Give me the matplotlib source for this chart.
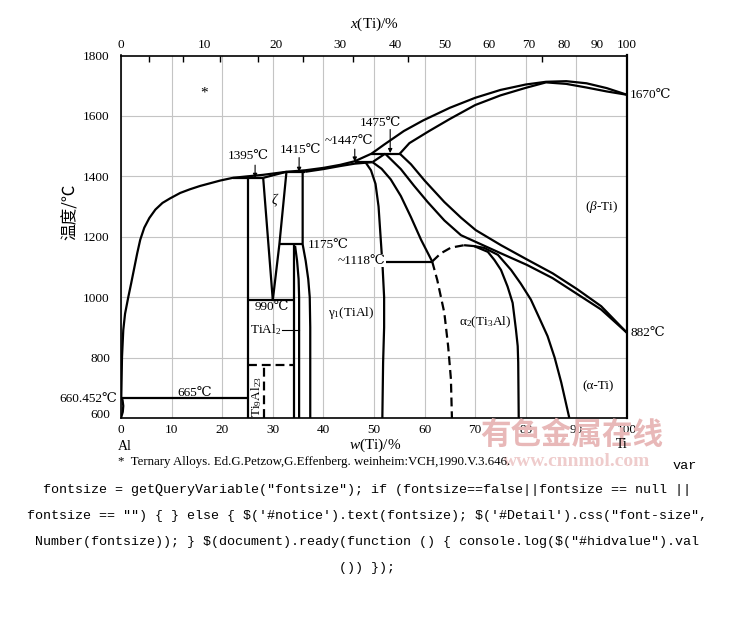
import numpy as np
import matplotlib.pyplot as plt
from matplotlib.transforms import ScaledTranslation

SERIF = ['Liberation Serif', 'DejaVu Serif', 'Noto Sans CJK SC']
plt.rcParams['font.family'] = SERIF
plt.rcParams['mathtext.fontset'] = 'custom'
plt.rcParams['mathtext.rm'] = 'Liberation Serif'
plt.rcParams['mathtext.it'] = 'Liberation Serif:italic'

# ── phase boundaries, w(Ti) % vs T (°C) ─────────────────────────────
liq_w = [0.05, 0.2, 0.45, 0.8, 1.45, 2.0, 2.6, 3.2, 3.8, 4.6, 5.6, 6.8, 8.2, 9.7,
         11.7, 13.6, 15.6, 17.6, 19.6, 22.1, 25.0, 28.1, 32.7, 36.4, 40.0, 43.3,
         46.2, 49.5, 52.0, 55.9, 59.7, 65.0, 70.0, 75.0, 80.0, 84.0, 88.0, 92.0,
         96.0, 100.0]
liq_T = [665, 802, 891, 945, 1001, 1045, 1095, 1145, 1190, 1230, 1262, 1290, 1312,
         1327, 1345, 1357, 1368, 1377, 1386, 1395, 1400, 1405, 1415, 1420, 1428,
         1438, 1450, 1475, 1505, 1550, 1585, 1627, 1660, 1686, 1704, 1713, 1715,
         1708, 1692, 1670]

sol_beta_w = [55.1, 57.0, 60.9, 65.0, 70.0, 75.0, 80.0, 84.0, 88.0, 92.0, 96.0, 100.0]
sol_beta_T = [1475, 1510, 1550, 1590, 1636, 1668, 1693, 1711, 1706, 1694, 1681, 1670]

sol_mid_w = [36.4, 40.0, 43.3, 46.2, 49.7]
sol_mid_T = [1415, 1424, 1434, 1442, 1447]

al_solvus_w = [0.0, 0.35, 0.45, 0.3, 0.05]
al_solvus_T = [600, 620, 640, 660, 665]

zeta_left_w = [28.1, 30.0]
zeta_left_T = [1395, 990]
zeta_right_w = [32.7, 31.3, 30.0]
zeta_right_T = [1415, 1175, 990]
zeta_top_w = [28.1, 32.7]
zeta_top_T = [1395, 1415]

tial2_a_w = [34.1, 34.1]
tial2_a_T = [1175, 600]
tial2_b_w = [34.4, 34.8, 35.1, 35.2, 35.2]
tial2_b_T = [1170, 1120, 1060, 1000, 600]
gamma_left_w = [35.9, 35.9, 36.5, 37.0, 37.3, 37.4, 37.4]
gamma_left_T = [1415, 1175, 1120, 1060, 1000, 900, 600]

gamma_right_w = [48.3, 49.4, 50.3, 50.9, 51.3, 51.7, 52.0, 52.0, 51.8, 51.65]
gamma_right_T = [1447, 1420, 1375, 1300, 1200, 1100, 1000, 900, 784, 600]

alpha_gamma_w = [49.7, 51.5, 53.3, 55.3, 57.3, 59.3, 61.5]
alpha_gamma_T = [1447, 1425, 1390, 1335, 1265, 1190, 1118]

alpha_sol_w = [49.7, 52.2]
alpha_sol_T = [1447, 1475]

alpha_transus_w = [52.2, 55.3, 57.9, 60.6, 63.9, 67.2, 70.1, 75.1, 80.2, 85.3, 90.1, 94.9, 100.0]
alpha_transus_T = [1475, 1424, 1369, 1315, 1254, 1205, 1183, 1145, 1107, 1063, 1011, 959, 882]
beta_transus_w = [55.1, 57.3, 60.0, 63.9, 67.2, 70.1, 75.1, 80.2, 85.3, 90.1, 94.9, 100.0]
beta_transus_T = [1475, 1440, 1386, 1315, 1263, 1222, 1172, 1125, 1079, 1027, 970, 882]

a2_dome_w = [61.5, 63.2, 65.2, 67.8]
a2_dome_T = [1118, 1145, 1164, 1172]
a2_left_w = [61.5, 62.5, 63.9, 64.65, 65.2, 65.4]
a2_left_T = [1118, 1057, 948, 838, 729, 600]
a2_right_w = [67.8, 69.8, 72.5, 73.8, 75.1, 76.4, 77.4, 78.05, 78.4, 78.5, 78.6]
a2_right_T = [1172, 1169, 1150, 1123, 1090, 1035, 981, 893, 838, 784, 600]
alpha_a2_w = [69.8, 71.8, 74.5, 77.1, 79.0, 81.0, 82.7, 84.3, 85.7, 87.0, 88.6]
alpha_a2_T = [1169, 1163, 1140, 1090, 1045, 992, 930, 871, 800, 718, 600]

# invariant lines: (w_start, w_end, T)
plateaus = [(0.0, 25.0, 665), (22.1, 28.1, 1395), (32.7, 36.4, 1415),
            (46.2, 49.7, 1447), (49.5, 55.1, 1475), (31.3, 35.9, 1175),
            (25.0, 34.1, 990), (51.7, 61.5, 1118)]
verticals = [(25.0, 600, 1395)]
dashed_h = [(25.0, 34.1, 775)]
dashed_v = [(28.3, 600, 775)]

top_at = [0, 10, 20, 30, 40, 50, 60, 70, 80, 90, 100]
top_marks_w = [5.6, 12.3, 19.6, 27.1, 36.0, 45.9, 56.8, 70.0, 83.3]


def w_to_x(w):
    w = np.asarray(w, dtype=float)
    a = w / 47.867
    b = (100 - w) / 26.982
    return 100 * a / np.where(a + b == 0, 1, a + b)


def x_to_w(x):
    x = np.asarray(x, dtype=float)
    a = x * 47.867
    b = (100 - x) * 26.982
    return 100 * a / np.where(a + b == 0, 1, a + b)


fig = plt.figure(figsize=(7.30, 6.17), dpi=100)
ax = fig.add_axes([121 / 730, 1 - 418 / 617, 506 / 730, 362.5 / 617])
ax.set_xlim(0, 100)
ax.set_ylim(600, 1800)

LW = 1.6
kw = dict(color='black', lw=LW, solid_capstyle='butt', zorder=3)
dkw = dict(color='black', lw=LW, ls=(0, (4, 2.2)), zorder=3)

curves = [(liq_w, liq_T), (sol_beta_w, sol_beta_T), (sol_mid_w, sol_mid_T),
          (al_solvus_w, al_solvus_T), (zeta_left_w, zeta_left_T),
          (zeta_right_w, zeta_right_T), (zeta_top_w, zeta_top_T),
          (tial2_a_w, tial2_a_T), (tial2_b_w, tial2_b_T),
          (gamma_left_w, gamma_left_T), (gamma_right_w, gamma_right_T),
          (alpha_gamma_w, alpha_gamma_T), (alpha_sol_w, alpha_sol_T),
          (alpha_transus_w, alpha_transus_T), (beta_transus_w, beta_transus_T),
          (a2_right_w, a2_right_T), (alpha_a2_w, alpha_a2_T)]
for cw, cT in curves:
    ax.plot(cw, cT, **kw)
for w0, w1, T in plateaus:
    ax.plot([w0, w1], [T, T], **kw)
for w, T0, T1 in verticals:
    ax.plot([w, w], [T0, T1], **kw)
ax.plot(a2_dome_w, a2_dome_T, **dkw)
ax.plot(a2_left_w, a2_left_T, **dkw)
for w0, w1, T in dashed_h:
    ax.plot([w0, w1], [T, T], **dkw)
for w, T0, T1 in dashed_v:
    ax.plot([w, w], [T0, T1], **dkw)

# axes styling
ax.set_xticks(range(0, 101, 10))
ax.set_yticks(range(600, 1801, 200))
ax.grid(True, color='#c4c4c4', lw=0.8, zorder=0)
ax.tick_params(axis='both', which='major', length=0, labelsize=9.5)
ax.tick_params(axis='x', pad=4)
ax.tick_params(axis='y', pad=8)
for s in ['left', 'bottom', 'top']:
    ax.spines[s].set_linewidth(1.2)
ax.spines['right'].set_linewidth(LW)
ax.set_xticks(top_marks_w, minor=True)
ax.tick_params(axis='x', which='minor', bottom=False, top=True, direction='in',
               length=4, width=1.0)
lab600 = ax.get_yticklabels()[0]
lab600.set_transform(lab600.get_transform() + ScaledTranslation(0, 5 / 100, fig.dpi_scale_trans))

sec = ax.secondary_xaxis('top', functions=(w_to_x, x_to_w))
sec.set_xticks(top_at)
sec.tick_params(length=0, labelsize=9.5, pad=3)
sec.spines['top'].set_visible(False)

# axis titles
fig.text(375 / 730, 1 - 24 / 617, '$x$(Ti)/%', ha='center', va='center', fontsize=11)
fig.text(375 / 730, 1 - 445 / 617, '$w$(Ti)/%', ha='center', va='center', fontsize=11)
fig.text(70 / 730, 1 - 212 / 617, '温度/℃', rotation=90, ha='center', va='center',
         fontsize=12, family=['Noto Sans CJK SC', 'DejaVu Sans'])
fig.text(125 / 730, 1 - 446 / 617, 'Al', ha='center', va='center', fontsize=10)
fig.text(622 / 730, 1 - 445 / 617, 'Ti', ha='center', va='center', fontsize=10)

# annotations inside the diagram
tk = dict(fontsize=9.5, color='black', zorder=5)
ax.text(16.4, 1676, '*', ha='center', va='center', fontsize=11)
ax.text(25.1, 1467, '1395℃', ha='center', va='center', **tk)
ax.text(35.4, 1486, '1415℃', ha='center', va='center', **tk)
ax.text(45.1, 1516, '~1447℃', ha='center', va='center', **tk)
ax.text(51.2, 1577, '1475℃', ha='center', va='center', **tk)
ax.text(100.6, 1670, '1670℃', ha='left', va='center', **tk)
ax.text(100.6, 882, '882℃', ha='left', va='center', **tk)
ax.text(37.0, 1172, '1175℃', ha='left', va='center', **tk)
ax.text(52.3, 1121, '~1118℃', ha='right', va='center',
        bbox=dict(facecolor='white', edgecolor='none', pad=0.3), **tk)
ax.text(29.8, 966, '990℃', ha='center', va='center', **tk)
ax.text(14.5, 682, '665℃', ha='center', va='center', **tk)
ax.text(-0.7, 662, '660.452℃', ha='right', va='center', **tk)
ax.text(30.4, 1322, 'ζ', ha='center', va='center', fontsize=10, style='italic')
ax.text(28.6, 891, 'TiAl$_2$', ha='center', va='center', **tk)
ax.plot([31.8, 35.1], [891, 891], color='black', lw=0.8, zorder=4)
ax.text(26.8, 671, 'Ti$_9$Al$_{23}$', rotation=90, ha='center', va='center', **tk)
ax.text(45.5, 947, 'γ$_1$(TiAl)', ha='center', va='center', **tk)
ax.text(71.9, 918, 'α$_2$(Ti$_3$Al)', ha='center', va='center', **tk)
ax.text(95.0, 1297, '($\\beta$-Ti)', ha='center', va='center', **tk)
ax.text(94.3, 704, '(α-Ti)', ha='center', va='center', **tk)

# arrows to invariant temperatures
arrows = [(26.5, 1437, 1395), (35.2, 1462, 1415), (46.2, 1490, 1449), (53.2, 1555, 1477)]
for aw, T0, T1 in arrows:
    ax.annotate('', xy=(aw, T1), xytext=(aw, T0),
                arrowprops=dict(arrowstyle='-|>', lw=0.8, color='black',
                                mutation_scale=6, shrinkA=0, shrinkB=0), zorder=5)

# watermark
fig.text(572 / 730, 1 - 435 / 617, '有色金属在线', ha='center', va='center',
         fontsize=22, color='#e8b8b8', family=['Noto Sans CJK SC'], weight='bold', zorder=0)
fig.text(577 / 730, 1 - 461 / 617, 'www.cnnmol.com', ha='center', va='center',
         fontsize=14, color='#efcccc', weight='bold', zorder=0)

# footnote and stray page script
fig.text(118 / 730, 1 - 462 / 617,
         '*  Ternary Alloys. Ed.G.Petzow,G.Effenberg. weinheim:VCH,1990.V.3.646.',
         ha='left', va='center', fontsize=9.3)
fig.text(685 / 730, 1 - 466 / 617, 'var', ha='center', va='center', fontsize=9.7,
         family='Liberation Mono')
code_lines = [
    'fontsize = getQueryVariable("fontsize"); if (fontsize==false||fontsize == null ||',
    'fontsize == "") { } else { $(\'#notice\').text(fontsize); $(\'#Detail\').css("font-size",',
    'Number(fontsize)); } $(document).ready(function () { console.log($("#hidvalue").val',
    '()) });',
]
code_y = [490, 516, 542, 568]
for line, yy in zip(code_lines, code_y):
    fig.text(367 / 730, 1 - yy / 617, line, ha='center', va='center', fontsize=9.6,
             family='Liberation Mono', parse_math=False)

fig.savefig('out.png', dpi=100, facecolor='white')
